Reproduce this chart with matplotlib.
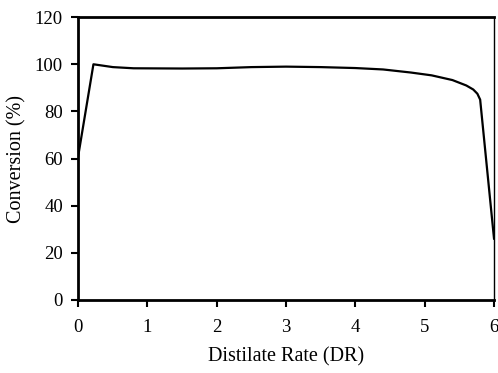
import matplotlib.pyplot as plt

# distillate rate vs conversion
dr = [0, 0.22, 0.5, 0.8, 1.5, 2.0, 2.5, 3.0, 3.5, 4.0, 4.4, 4.8, 5.1, 5.4, 5.6, 5.7, 5.76, 5.8, 6.0]
conv = [61, 100, 98.8, 98.3, 98.2, 98.3, 98.8, 99, 98.8, 98.4, 97.8, 96.5, 95.3, 93.3, 91, 89.3, 87.5, 85, 26]

xticks = [0, 1, 2, 3, 4, 5, 6]
yticks = [0, 20, 40, 60, 80, 100, 120]

plt.rcParams['font.family'] = 'Liberation Serif'

fig = plt.figure(figsize=(4.98, 3.73), dpi=100)
ax = fig.add_axes([0.157, 0.196, 0.835, 0.758])
ax.plot(dr, conv, color='black', lw=1.6)

ax.set_xlim(0, 6)
ax.set_ylim(0, 120)
ax.set_xticks(xticks)
ax.set_yticks(yticks)
ax.tick_params(direction='out', length=5, width=1.5, labelsize=13.5, pad=6)
ax.tick_params(axis='x', pad=9)

for side in ['left', 'bottom', 'top']:
    ax.spines[side].set_linewidth(2)
ax.spines['right'].set_linewidth(1)

ax.set_xlabel('Distilate Rate (DR)', fontsize=14.5, labelpad=8)
ax.set_ylabel('Conversion (%)', fontsize=14.5, labelpad=6)

fig.savefig('out.png', dpi=100)
